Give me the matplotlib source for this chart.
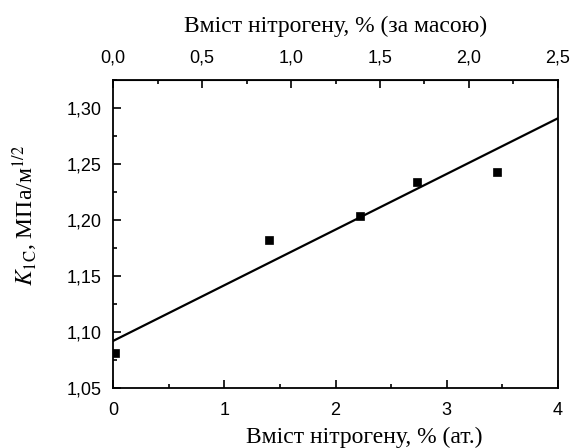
import matplotlib
matplotlib.use("Agg")
import matplotlib.pyplot as plt
from matplotlib.ticker import MultipleLocator, FuncFormatter

# Вміст нітрогену, % (ат.) та K1C, МПа/м^1/2
n_at = [0.02, 1.40, 2.22, 2.73, 3.45]
k1c = [1.081, 1.182, 1.204, 1.234, 1.243]

# лінійна апроксимація (як на рисунку)
fit_x = [0.0, 4.0]
fit_y = [1.092, 1.291]

# 2,5 % (за масою) відповідає 4 % (ат.)
mass_per_at = 2.5 / 4.0

plt.rcParams['mathtext.fontset'] = 'stix'

fig = plt.figure(figsize=(5.72, 4.48), dpi=100)
ax = fig.add_axes([0.1976, 0.134, 0.7779, 0.687])

ax.plot(fit_x, fit_y, color='black', lw=1.6)
ax.plot(n_at, k1c, 's', color='black', ms=5.8, mew=0.5)

ax.set_xlim(0, 4)
ax.set_ylim(1.05, 1.325)

comma = lambda fmt: FuncFormatter(lambda v, p: (fmt % v).replace('.', ','))

ax.xaxis.set_major_locator(MultipleLocator(1))
ax.xaxis.set_minor_locator(MultipleLocator(0.5))
ax.yaxis.set_major_locator(MultipleLocator(0.05))
ax.yaxis.set_minor_locator(MultipleLocator(0.025))
ax.xaxis.set_major_formatter(comma('%d'))
ax.yaxis.set_major_formatter(comma('%.2f'))

tick_font = 'Liberation Sans'
for lab in ax.get_xticklabels() + ax.get_yticklabels():
    lab.set_family(tick_font)
ax.tick_params(which='major', direction='in', length=6, width=1.2, labelsize=13)
ax.tick_params(axis='x', which='major', pad=10)
ax.tick_params(axis='y', which='major', pad=8)
ax.tick_params(which='minor', direction='in', length=3, width=1.2)
for s in ax.spines.values():
    s.set_linewidth(1.3)

top = ax.secondary_xaxis('top', functions=(lambda x: x * mass_per_at, lambda m: m / mass_per_at))
top.xaxis.set_major_locator(MultipleLocator(0.5))
top.xaxis.set_minor_locator(MultipleLocator(0.25))
top.xaxis.set_major_formatter(comma('%.1f'))
top.tick_params(which='major', direction='in', length=6, width=1.2, labelsize=13, pad=10)
top.tick_params(which='minor', direction='in', length=3, width=1.2)
for lab in top.get_xticklabels():
    lab.set_family(tick_font)

label_font = dict(family='Liberation Serif', size=17)
ax.set_xlabel('Вміст нітрогену, % (ат.)', fontdict=label_font)
ax.xaxis.set_label_coords(0.565, -0.125)
ax.text(0.5, 1.14, 'Вміст нітрогену, % (за масою)', transform=ax.transAxes,
        ha='center', va='bottom', **label_font)
ax.set_ylabel(r'$K_{\rm 1C}$, МПа/м$^{1/2}$', fontdict=label_font)
ax.yaxis.set_label_coords(-0.164, 0.56)

fig.savefig('out.png', dpi=100)
